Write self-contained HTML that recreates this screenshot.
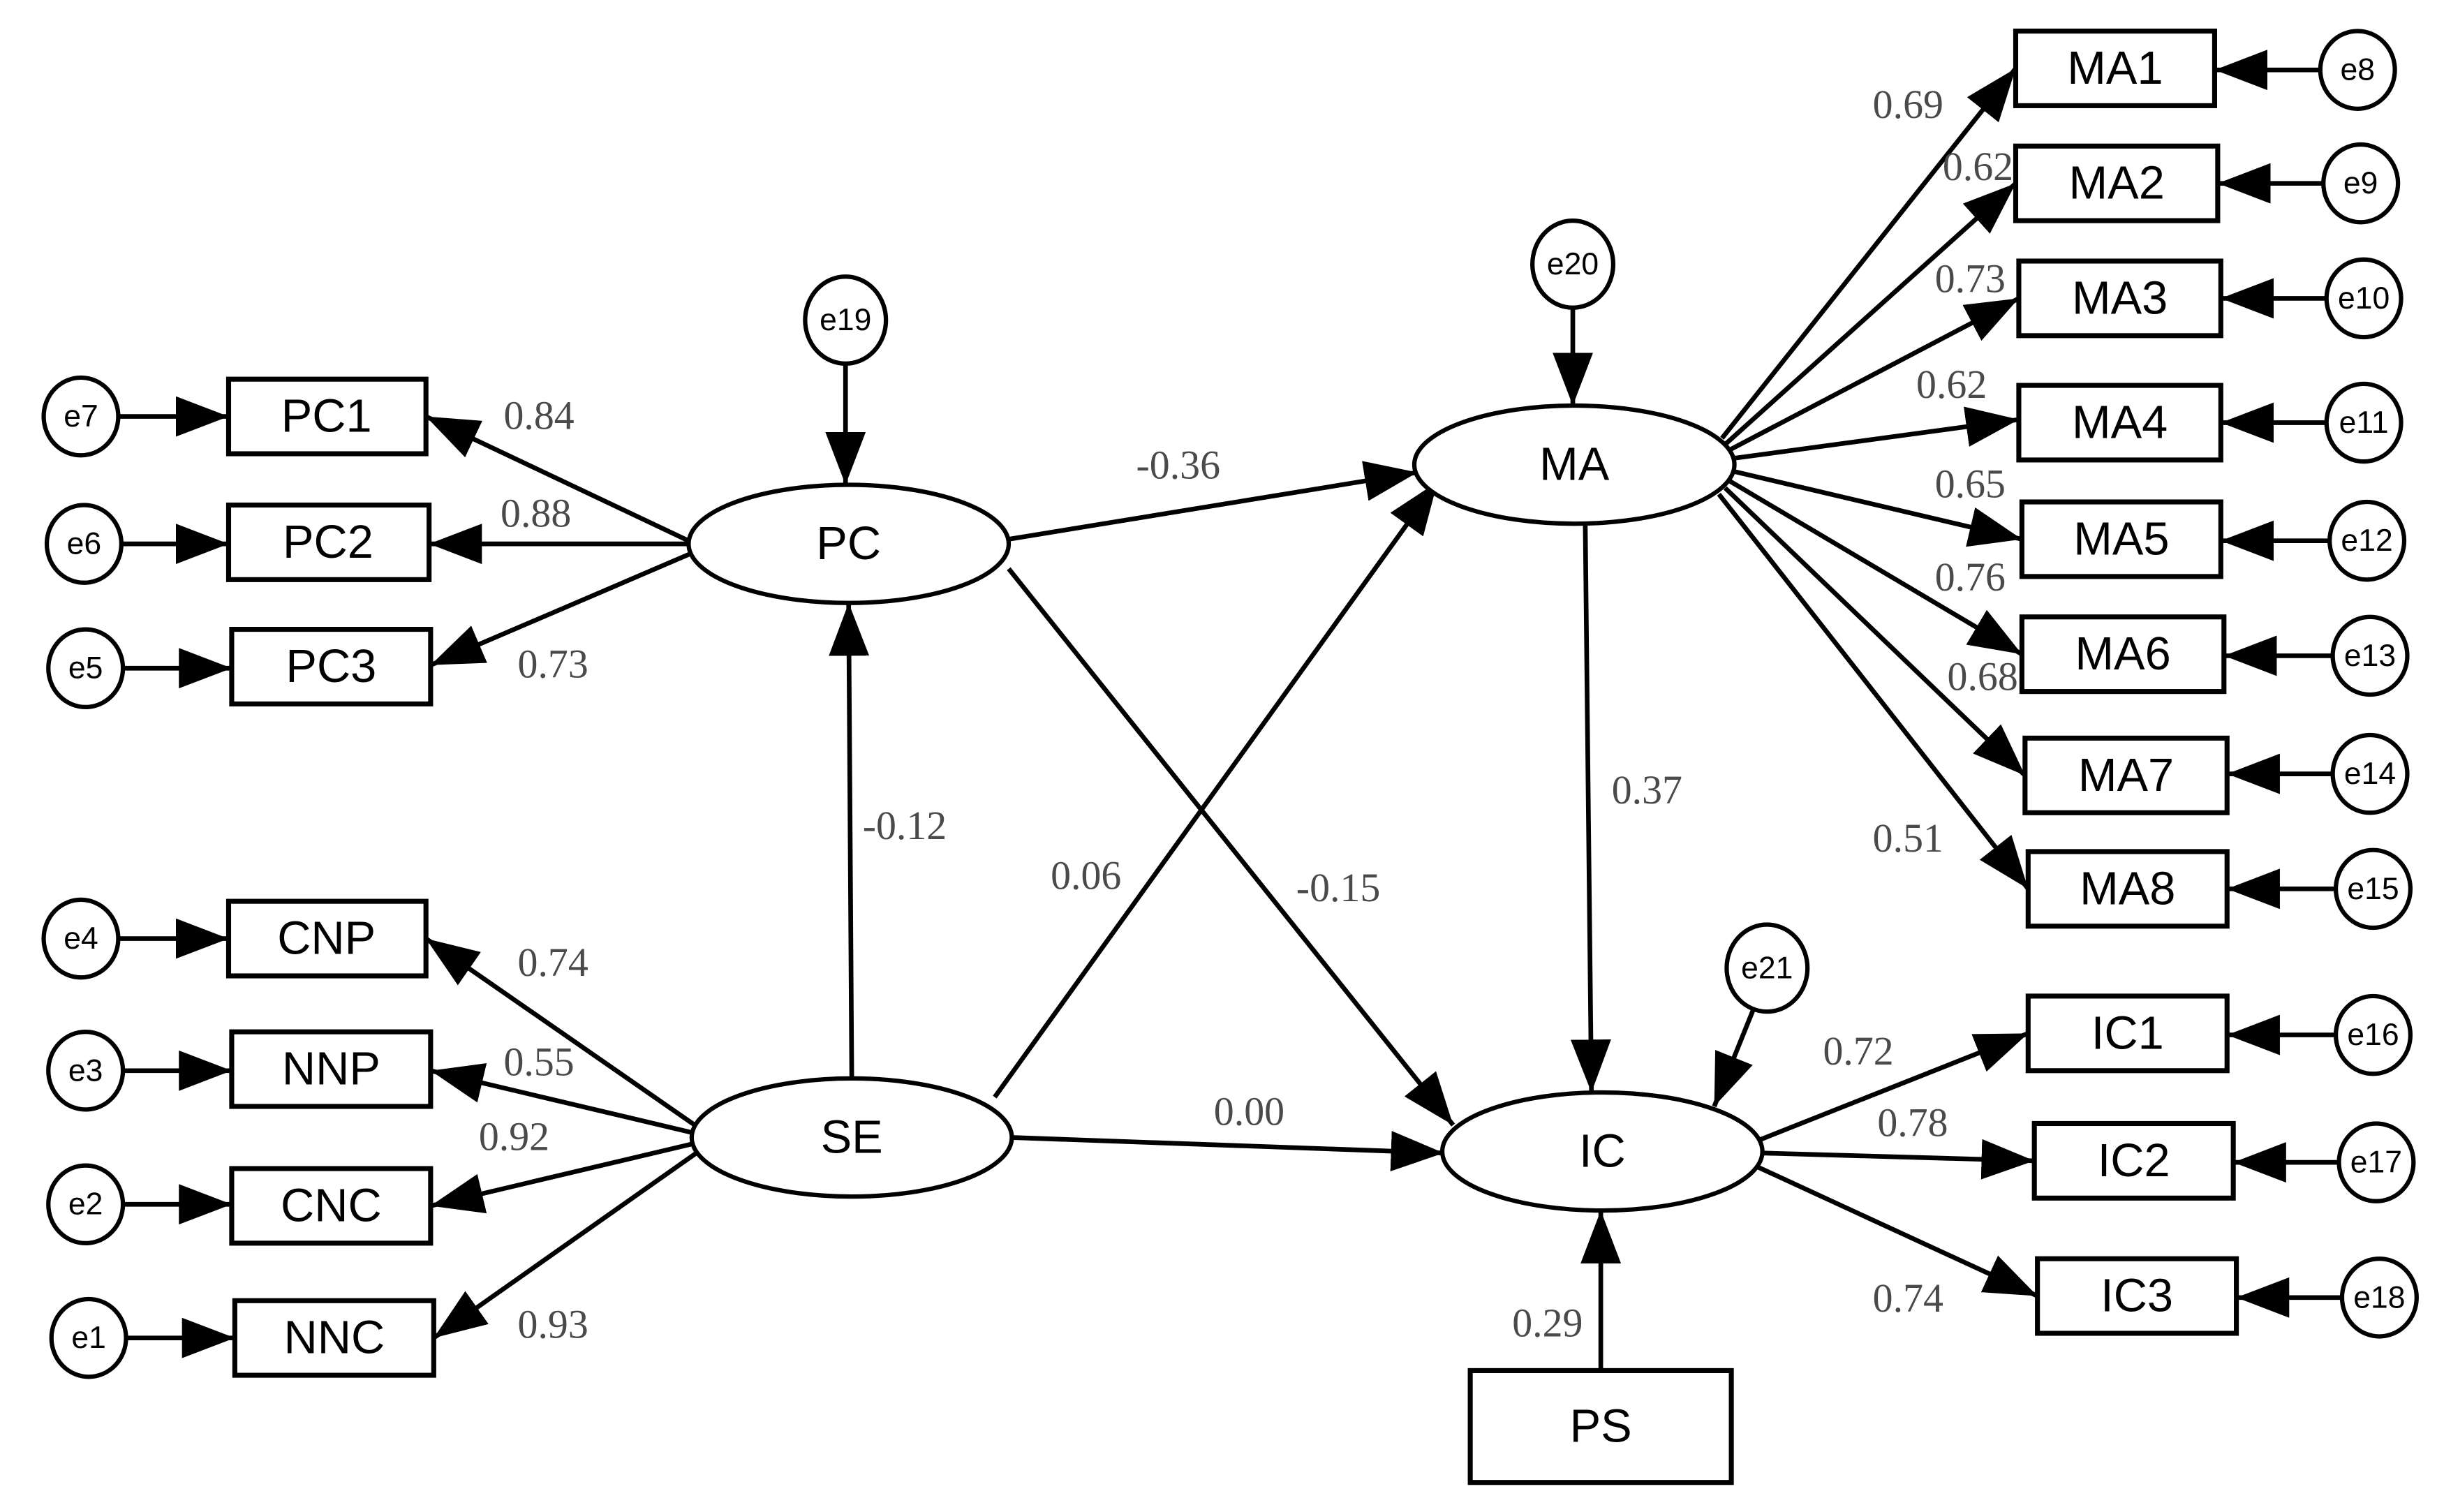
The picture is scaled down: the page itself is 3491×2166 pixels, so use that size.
<!DOCTYPE html>
<html><head><meta charset="utf-8"><style>
html,body{margin:0;padding:0;background:#fff;}
svg{display:block;}
.b{font-family:"Liberation Sans",sans-serif;font-size:30px;fill:#000;text-anchor:middle;dominant-baseline:central;}
.e{font-family:"Liberation Sans",sans-serif;font-size:20px;fill:#000;text-anchor:middle;dominant-baseline:central;}
.l{font-family:"Liberation Serif",serif;font-size:26px;fill:#4a4a4a;}
line{stroke:#000;stroke-width:3;}
rect{fill:#fff;stroke:#000;stroke-width:3.2;}
ellipse{fill:#fff;stroke:#000;stroke-width:2.8;}
</style></head><body>
<svg width="3491" height="2166" viewBox="0 0 1568 973" xmlns="http://www.w3.org/2000/svg">
<defs><marker id="a" markerUnits="userSpaceOnUse" markerWidth="36" markerHeight="28" refX="34" refY="13" orient="auto"><path d="M0,0 L34,13 L0,26 Z" fill="#000"/></marker></defs>
<g marker-end="url(#a)">
<line x1="76" y1="268" x2="147" y2="268"/>
<line x1="78" y1="350" x2="147" y2="350"/>
<line x1="79" y1="430" x2="149" y2="430"/>
<line x1="76" y1="604" x2="147" y2="604"/>
<line x1="79" y1="689" x2="149" y2="689"/>
<line x1="79" y1="775" x2="149" y2="775"/>
<line x1="81" y1="861" x2="151" y2="861"/>
<line x1="443" y1="348" x2="274" y2="268"/>
<line x1="443" y1="350" x2="276" y2="350"/>
<line x1="445" y1="356" x2="277" y2="428"/>
<line x1="447" y1="724" x2="274" y2="604"/>
<line x1="446" y1="729" x2="277" y2="689"/>
<line x1="446" y1="736" x2="277" y2="776"/>
<line x1="448" y1="742" x2="279" y2="861"/>
<line x1="544" y1="234" x2="544" y2="312"/>
<line x1="548" y1="694" x2="546" y2="388"/>
<line x1="649" y1="347" x2="912" y2="304"/>
<line x1="649" y1="366" x2="935" y2="724"/>
<line x1="640" y1="706" x2="925" y2="310"/>
<line x1="651" y1="732" x2="929" y2="742"/>
<line x1="1012" y1="198" x2="1012" y2="261"/>
<line x1="1020" y1="337" x2="1024" y2="703"/>
<line x1="1128" y1="650" x2="1103" y2="712"/>
<line x1="1030" y1="882" x2="1030" y2="779"/>
<line x1="1108" y1="282" x2="1297" y2="44"/>
<line x1="1110" y1="286" x2="1297" y2="118"/>
<line x1="1112" y1="290" x2="1299" y2="192"/>
<line x1="1115" y1="295" x2="1299" y2="270"/>
<line x1="1114" y1="303" x2="1301" y2="347"/>
<line x1="1112" y1="309" x2="1301" y2="421"/>
<line x1="1110" y1="314" x2="1303" y2="499"/>
<line x1="1106" y1="318" x2="1305" y2="572"/>
<line x1="1131" y1="734" x2="1305" y2="665"/>
<line x1="1134" y1="742" x2="1309" y2="747"/>
<line x1="1131" y1="751" x2="1311" y2="834"/>
<line x1="1493" y1="45" x2="1425" y2="45"/>
<line x1="1495" y1="118" x2="1427" y2="118"/>
<line x1="1497" y1="192" x2="1429" y2="192"/>
<line x1="1497" y1="272" x2="1429" y2="272"/>
<line x1="1499" y1="348" x2="1429" y2="348"/>
<line x1="1501" y1="422" x2="1431" y2="422"/>
<line x1="1501" y1="498" x2="1433" y2="498"/>
<line x1="1503" y1="572" x2="1433" y2="572"/>
<line x1="1503" y1="666" x2="1433" y2="666"/>
<line x1="1505" y1="748" x2="1437" y2="748"/>
<line x1="1507" y1="835" x2="1439" y2="835"/>
</g>
<rect x="147" y="244" width="127" height="48"/><text class="b" x="210" y="268">PC1</text>
<rect x="147" y="325" width="129" height="48"/><text class="b" x="211" y="349">PC2</text>
<rect x="149" y="405" width="128" height="48"/><text class="b" x="213" y="429">PC3</text>
<rect x="147" y="580" width="127" height="48"/><text class="b" x="210" y="604">CNP</text>
<rect x="149" y="664" width="128" height="48"/><text class="b" x="213" y="688">NNP</text>
<rect x="149" y="752" width="128" height="48"/><text class="b" x="213" y="776">CNC</text>
<rect x="151" y="837" width="128" height="48"/><text class="b" x="215" y="861">NNC</text>
<rect x="1297" y="20" width="128" height="48"/><text class="b" x="1361" y="44">MA1</text>
<rect x="1297" y="94" width="130" height="48"/><text class="b" x="1362" y="118">MA2</text>
<rect x="1299" y="168" width="130" height="48"/><text class="b" x="1364" y="192">MA3</text>
<rect x="1299" y="248" width="130" height="48"/><text class="b" x="1364" y="272">MA4</text>
<rect x="1301" y="323" width="128" height="48"/><text class="b" x="1365" y="347">MA5</text>
<rect x="1301" y="397" width="130" height="48"/><text class="b" x="1366" y="421">MA6</text>
<rect x="1303" y="475" width="130" height="48"/><text class="b" x="1368" y="499">MA7</text>
<rect x="1305" y="548" width="128" height="48"/><text class="b" x="1369" y="572">MA8</text>
<rect x="1305" y="641" width="128" height="48"/><text class="b" x="1369" y="665">IC1</text>
<rect x="1309" y="723" width="128" height="48"/><text class="b" x="1373" y="747">IC2</text>
<rect x="1311" y="810" width="128" height="48"/><text class="b" x="1375" y="834">IC3</text>
<rect x="946" y="882" width="168" height="72"/><text class="b" x="1030" y="918">PS</text>
<ellipse cx="546" cy="350" rx="103" ry="38"/><text class="b" x="546" y="350">PC</text>
<ellipse cx="548" cy="732" rx="103" ry="38"/><text class="b" x="548" y="732">SE</text>
<ellipse cx="1013" cy="299" rx="103" ry="38"/><text class="b" x="1013" y="299">MA</text>
<ellipse cx="1031" cy="741" rx="103" ry="38"/><text class="b" x="1031" y="741">IC</text>
<g>
<ellipse cx="52" cy="268" rx="24" ry="25"/><text class="e" x="52" y="268">e7</text>
<ellipse cx="54" cy="350" rx="24" ry="25"/><text class="e" x="54" y="350">e6</text>
<ellipse cx="55" cy="430" rx="24" ry="25"/><text class="e" x="55" y="430">e5</text>
<ellipse cx="52" cy="604" rx="24" ry="25"/><text class="e" x="52" y="604">e4</text>
<ellipse cx="55" cy="689" rx="24" ry="25"/><text class="e" x="55" y="689">e3</text>
<ellipse cx="55" cy="775" rx="24" ry="25"/><text class="e" x="55" y="775">e2</text>
<ellipse cx="57" cy="861" rx="24" ry="25"/><text class="e" x="57" y="861">e1</text>
<ellipse cx="544" cy="206" rx="26" ry="28"/><text class="e" x="544" y="206">e19</text>
<ellipse cx="1012" cy="170" rx="26" ry="28"/><text class="e" x="1012" y="170">e20</text>
<ellipse cx="1137" cy="623" rx="26" ry="28"/><text class="e" x="1137" y="623">e21</text>
<ellipse cx="1517" cy="45" rx="24" ry="25"/><text class="e" x="1517" y="45">e8</text>
<ellipse cx="1519" cy="118" rx="24" ry="25"/><text class="e" x="1519" y="118">e9</text>
<ellipse cx="1521" cy="192" rx="24" ry="25"/><text class="e" x="1521" y="192">e10</text>
<ellipse cx="1521" cy="272" rx="24" ry="25"/><text class="e" x="1521" y="272">e11</text>
<ellipse cx="1523" cy="348" rx="24" ry="25"/><text class="e" x="1523" y="348">e12</text>
<ellipse cx="1525" cy="422" rx="24" ry="25"/><text class="e" x="1525" y="422">e13</text>
<ellipse cx="1525" cy="498" rx="24" ry="25"/><text class="e" x="1525" y="498">e14</text>
<ellipse cx="1527" cy="572" rx="24" ry="25"/><text class="e" x="1527" y="572">e15</text>
<ellipse cx="1527" cy="666" rx="24" ry="25"/><text class="e" x="1527" y="666">e16</text>
<ellipse cx="1529" cy="748" rx="24" ry="25"/><text class="e" x="1529" y="748">e17</text>
<ellipse cx="1531" cy="835" rx="24" ry="25"/><text class="e" x="1531" y="835">e18</text>
</g>
<text class="l" x="324" y="276">0.84</text>
<text class="l" x="322" y="339">0.88</text>
<text class="l" x="333" y="436">0.73</text>
<text class="l" x="333" y="628">0.74</text>
<text class="l" x="324" y="692">0.55</text>
<text class="l" x="308" y="740">0.92</text>
<text class="l" x="333" y="861">0.93</text>
<text class="l" x="555" y="540">-0.12</text>
<text class="l" x="731" y="308">-0.36</text>
<text class="l" x="676" y="572">0.06</text>
<text class="l" x="834" y="580">-0.15</text>
<text class="l" x="781" y="724">0.00</text>
<text class="l" x="1037" y="517">0.37</text>
<text class="l" x="973" y="860">0.29</text>
<text class="l" x="1205" y="76">0.69</text>
<text class="l" x="1250" y="116">0.62</text>
<text class="l" x="1245" y="188">0.73</text>
<text class="l" x="1233" y="256">0.62</text>
<text class="l" x="1245" y="320">0.65</text>
<text class="l" x="1245" y="380">0.76</text>
<text class="l" x="1253" y="444">0.68</text>
<text class="l" x="1205" y="548">0.51</text>
<text class="l" x="1173" y="685">0.72</text>
<text class="l" x="1208" y="731">0.78</text>
<text class="l" x="1205" y="844">0.74</text>
</svg>
</body></html>
